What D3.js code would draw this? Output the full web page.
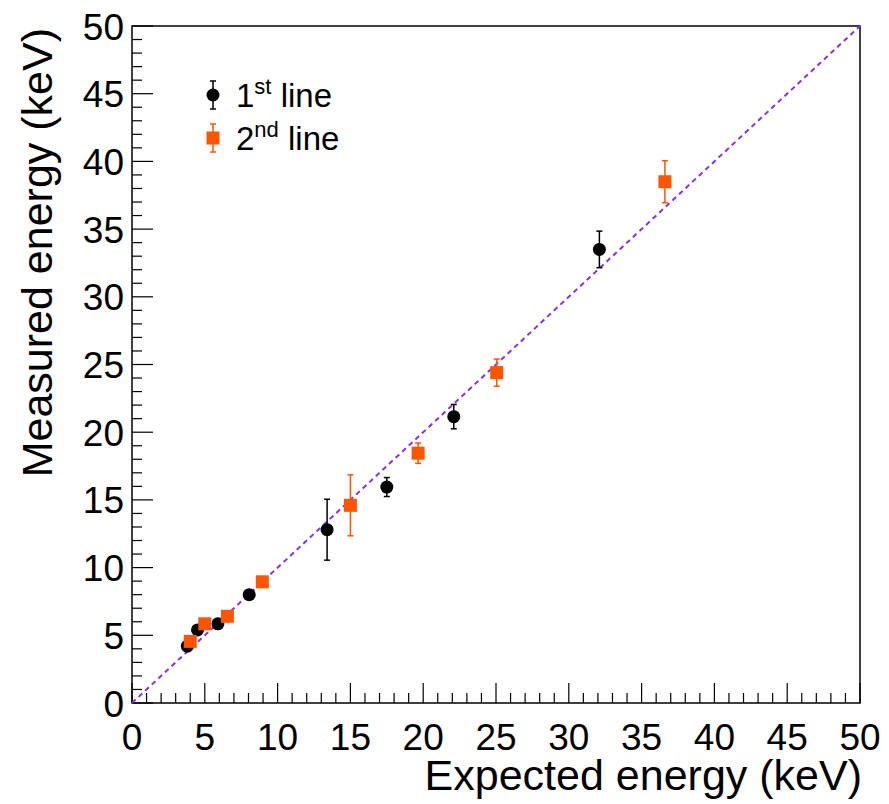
<!DOCTYPE html>
<html lang="en">
<head>
<meta charset="UTF-8"/>
<title>Measured vs expected energy</title>
<script src="https://cdn.jsdelivr.net/npm/d3@7"></script>
<style>
  body { margin: 0; background: #fff; }
  text { font-family: "Liberation Sans", Arial, sans-serif; }
</style>
</head>
<body>
<script>
// 1st line (black circles)
var firstX   = [3.8, 4.5, 5.9, 8.05, 13.4, 17.5, 22.1, 32.1];
var firstY   = [4.2, 5.4, 5.85, 8.0, 12.8, 15.95, 21.15, 33.5];
var firstErr = [0.2, 0.2, 0.2, 0.2, 2.25, 0.7, 0.9, 1.35];

// 2nd line (orange squares)
var secondX   = [4.0, 5.0, 6.55, 8.95, 15.0, 19.65, 25.05, 36.6];
var secondY   = [4.55, 5.85, 6.4, 8.95, 14.6, 18.45, 24.4, 38.5];
var secondErr = [0.2, 0.2, 0.2, 0.3, 2.25, 0.75, 1.0, 1.55];

var tickValues = [0, 5, 10, 15, 20, 25, 30, 35, 40, 45, 50];

var w = 889, h = 804;
var padLeft = 132, padRight = 860, padTop = 26, padBottom = 703;

var x = d3.scaleLinear().domain([0, 50]).range([padLeft, padRight]);
var y = d3.scaleLinear().domain([0, 50]).range([padBottom, padTop]);

var svg = d3.select("body").append("svg")
  .attr("width", w)
  .attr("height", h);

// frame
svg.append("rect")
  .attr("x", padLeft).attr("y", padTop)
  .attr("width", padRight - padLeft).attr("height", padBottom - padTop)
  .attr("fill", "none").attr("stroke", "#000").attr("stroke-width", 1.5);

// ticks
var minor = d3.range(0, 51, 1);
svg.selectAll("line.xt").data(minor).enter().append("line")
  .attr("x1", function(d) { return x(d); })
  .attr("x2", function(d) { return x(d); })
  .attr("y1", padBottom)
  .attr("y2", function(d) { return padBottom - (d % 5 === 0 ? 20 : 10); })
  .attr("stroke", "#000").attr("stroke-width", 1.2);

svg.selectAll("line.yt").data(minor).enter().append("line")
  .attr("y1", function(d) { return y(d); })
  .attr("y2", function(d) { return y(d); })
  .attr("x1", padLeft)
  .attr("x2", function(d) { return padLeft + (d % 5 === 0 ? 21 : 10); })
  .attr("stroke", "#000").attr("stroke-width", 1.2);

// tick labels
svg.selectAll("text.xl").data(tickValues).enter().append("text")
  .attr("x", function(d) { return x(d); })
  .attr("y", 750)
  .attr("text-anchor", "middle")
  .attr("font-size", 37)
  .text(function(d) { return d; });

svg.selectAll("text.yl").data(tickValues).enter().append("text")
  .attr("x", 124)
  .attr("y", function(d) { return y(d) + 13.5; })
  .attr("text-anchor", "end")
  .attr("font-size", 37)
  .text(function(d) { return d; });

// axis titles
svg.append("text")
  .attr("x", padRight + 2).attr("y", 790)
  .attr("text-anchor", "end")
  .attr("font-size", 43)
  .text("Expected energy (keV)");

svg.append("text")
  .attr("transform", "translate(52," + (padTop + 2) + ") rotate(-90)")
  .attr("text-anchor", "end")
  .attr("font-size", 43)
  .text("Measured energy (keV)");

// diagonal y = x
svg.append("line")
  .attr("x1", x(0)).attr("y1", y(0))
  .attr("x2", x(50)).attr("y2", y(50))
  .attr("stroke", "#8030ff").attr("stroke-width", 2)
  .attr("stroke-dasharray", "5,4");

function errorBars(xs, ys, es, color) {
  var g = svg.append("g").attr("stroke", color).attr("stroke-width", 1.5);
  xs.forEach(function(xv, i) {
    g.append("line")
      .attr("x1", x(xv)).attr("x2", x(xv))
      .attr("y1", y(ys[i] - es[i])).attr("y2", y(ys[i] + es[i]));
    [ys[i] - es[i], ys[i] + es[i]].forEach(function(v) {
      g.append("line")
        .attr("x1", x(xv) - 3).attr("x2", x(xv) + 3)
        .attr("y1", y(v)).attr("y2", y(v));
    });
  });
}

errorBars(firstX, firstY, firstErr, "#000");
errorBars(secondX, secondY, secondErr, "#ff5500");

svg.selectAll("circle.first").data(firstX).enter().append("circle")
  .attr("cx", function(d) { return x(d); })
  .attr("cy", function(d, i) { return y(firstY[i]); })
  .attr("r", 6.5)
  .attr("fill", "#000");

svg.selectAll("rect.second").data(secondX).enter().append("rect")
  .attr("x", function(d) { return x(d) - 6.5; })
  .attr("y", function(d, i) { return y(secondY[i]) - 6.5; })
  .attr("width", 13).attr("height", 13)
  .attr("fill", "#ff5500");

// legend
var legend = [
  { num: "1", sup: "st", color: "#000", shape: "circle", y: 95 },
  { num: "2", sup: "nd", color: "#ff5500", shape: "square", y: 138 }
];
legend.forEach(function(d) {
  var lx = 213;
  svg.append("line")
    .attr("x1", lx).attr("x2", lx)
    .attr("y1", d.y - 14).attr("y2", d.y + 14)
    .attr("stroke", d.color).attr("stroke-width", 1.5);
  [d.y - 14, d.y + 14].forEach(function(v) {
    svg.append("line")
      .attr("x1", lx - 3).attr("x2", lx + 3)
      .attr("y1", v).attr("y2", v)
      .attr("stroke", d.color).attr("stroke-width", 1.5);
  });
  if (d.shape === "circle") {
    svg.append("circle").attr("cx", lx).attr("cy", d.y).attr("r", 6.5).attr("fill", d.color);
  } else {
    svg.append("rect").attr("x", lx - 6.5).attr("y", d.y - 6.5)
      .attr("width", 13).attr("height", 13).attr("fill", d.color);
  }
  var t = svg.append("text")
    .attr("x", 236).attr("y", d.y + 12)
    .attr("font-size", 33);
  t.append("tspan").text(d.num);
  t.append("tspan").attr("font-size", 22).attr("dy", -13).text(d.sup);
  t.append("tspan").attr("dy", 13).text(" line");
});
</script>
</body>
</html>
